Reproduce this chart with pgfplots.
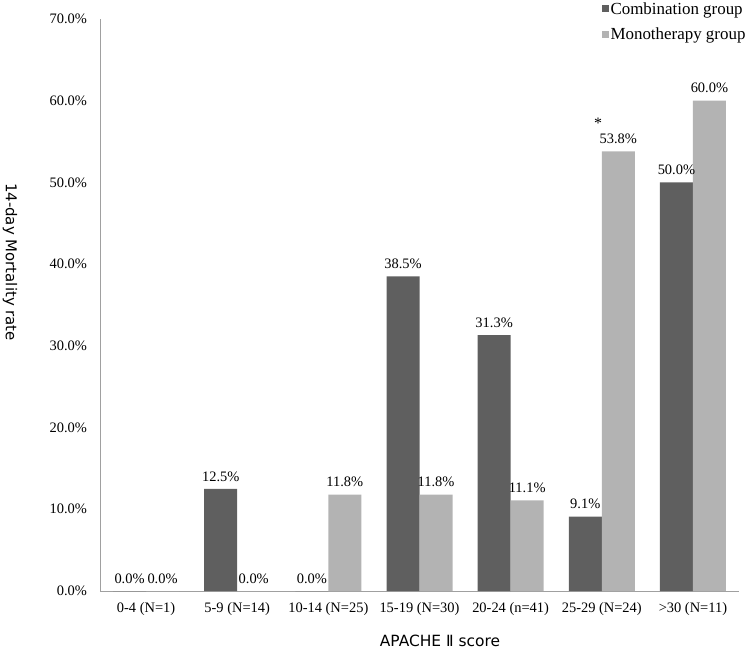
\documentclass[border=0pt]{standalone}
\usepackage{fontspec}
\setmainfont{Liberation Serif}
\newfontfamily\lab{DejaVu Sans}
\usepackage{pgfplots}
\pgfplotsset{compat=1.18}
\definecolor{darkbar}{HTML}{5F5F5F}
\definecolor{lightbar}{HTML}{B3B3B3}
\definecolor{axgray}{HTML}{A0A0A0}
\begin{document}
\begin{tikzpicture}
\path[use as bounding box] (-100.5bp,-66bp) rectangle (652.5bp,591bp);
\begin{axis}[
  at={(0,0)}, anchor=south west,
  scale only axis, width=638bp, height=572bp,
  ybar=0pt, bar width=33bp,
  xmin=-0.5, xmax=6.5, ymin=0, ymax=70,
  xtick={0,1,2,3,4,5,6},
  xticklabels={0-4 (N=1),5-9 (N=14),10-14 (N=25),15-19 (N=30),20-24 (n=41),25-29 (N=24),>30 (N=11)},
  ytick={0,10,20,30,40,50,60,70},
  yticklabel={\pgfmathprintnumber[fixed,fixed zerofill,precision=1]{\tick}\%},
  /pgf/number format/assume math mode=true,
  tick label style={font=\fontsize{14.5}{16}\selectfont},
  yticklabel style={xshift=-10bp},
  xticklabel style={yshift=-8bp},
  major tick length=0pt,
  axis x line*=bottom, axis y line*=left,
  axis line style={axgray, line width=1bp, -},
  nodes near coords={\pgfmathprintnumber[fixed,fixed zerofill,precision=1]{\pgfplotspointmeta}\%},
  every node near coord/.append style={font=\fontsize{14.5}{16}\selectfont, black, yshift=4bp},
  legend style={at={(0.785,1.033)}, anchor=north west, draw=none, fill=none,
    font=\fontsize{17}{19}\selectfont, row sep=8bp, inner sep=0pt,
    legend cell align=left},
  legend image code/.code={\fill[#1] (1bp,-3.5bp) rectangle (8bp,3.5bp);},
  clip=false,
]
\addplot[fill=darkbar, draw=none] coordinates {(0,0) (1,12.5) (2,0) (3,38.5) (4,31.3) (5,9.1) (6,50.0)};
\addplot[fill=lightbar, draw=none] coordinates {(0,0) (1,0) (2,11.8) (3,11.8) (4,11.1) (5,53.8) (6,60.0)};
\legend{Combination group, Monotherapy group}
\node[font=\fontsize{16}{18}\selectfont] at (axis cs:4.96,57.2) {*};
\end{axis}
\node[font=\lab\fontsize{15.5}{17}\selectfont] at (339.5bp,-50bp) {APACHE Ⅱ score};
\node[font=\lab\fontsize{15}{17}\selectfont, rotate=-90] at (-90.5bp,329bp) {14-day Mortality rate};
\end{tikzpicture}
\end{document}
